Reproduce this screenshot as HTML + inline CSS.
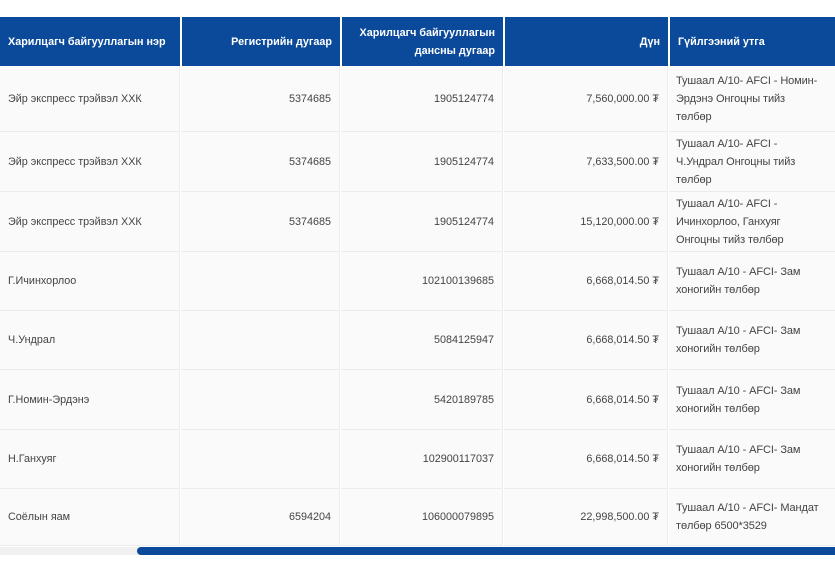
<!DOCTYPE html>
<html><head><meta charset="utf-8"><style>
body{margin:0;width:835px;height:567px;background:#fff;font-family:"Liberation Sans",sans-serif;position:relative;overflow:hidden}
.c{position:absolute;box-sizing:border-box;font-size:10.8px;color:#444;display:flex;align-items:center;padding:0 8px;line-height:18px}
.h{background:#0b4a9a;color:#fff;font-weight:bold;font-size:10.8px}
.r{justify-content:flex-end;text-align:right}
.b{background:#fafafa;border-bottom:1px solid #ececec}
.l{font-size:11px;padding:0 2px 0 7px;white-space:nowrap;overflow:hidden}
.l div{letter-spacing:-0.1px}
</style></head><body>
<div id="t"></div>
<div style="position:absolute;left:0;top:547px;width:835px;height:8px;background:#f1f1f1"></div>
<div style="position:absolute;left:137px;top:547px;width:698px;height:8px;background:#0b4a9a;border-radius:4px 0 0 4px"></div>
<script>
var cols=[[0,180],[182,340],[342,503],[505,668],[670,835]];
var rows=[66,132,192,252,311,370,430,489,546];
var H=["Харилцагч байгууллагын нэр","Регистрийн дугаар","Харилцагч байгууллагын<br>дансны дугаар","Дүн","Гүйлгээний утга"];
var D=[
["Эйр экспресс трэйвэл ХХК","5374685","1905124774","7,560,000.00 ₮","Тушаал А/10- AFCI - Номин-<br>Эрдэнэ Онгоцны тийз<br>төлбөр"],
["Эйр экспресс трэйвэл ХХК","5374685","1905124774","7,633,500.00 ₮","Тушаал А/10- AFCI -<br>Ч.Ундрал Онгоцны тийз<br>төлбөр"],
["Эйр экспресс трэйвэл ХХК","5374685","1905124774","15,120,000.00 ₮","Тушаал А/10- AFCI -<br>Ичинхорлоо, Ганхуяг<br>Онгоцны тийз төлбөр"],
["Г.Ичинхорлоо","","102100139685","6,668,014.50 ₮","Тушаал А/10 - AFCI- Зам<br>хоногийн төлбөр"],
["Ч.Ундрал","","5084125947","6,668,014.50 ₮","Тушаал А/10 - AFCI- Зам<br>хоногийн төлбөр"],
["Г.Номин-Эрдэнэ","","5420189785","6,668,014.50 ₮","Тушаал А/10 - AFCI- Зам<br>хоногийн төлбөр"],
["Н.Ганхуяг","","102900117037","6,668,014.50 ₮","Тушаал А/10 - AFCI- Зам<br>хоногийн төлбөр"],
["Соёлын яам","6594204","106000079895","22,998,500.00 ₮","Тушаал А/10 - AFCI- Мандат<br>төлбөр 6500*3529"]];
var s="";
cols.forEach(function(c,i){s+='<div class="c h'+((i>0&&i<4)?' r':'')+'" style="left:'+c[0]+'px;top:17px;width:'+(c[1]-c[0])+'px;height:49px">'+H[i]+'</div>';});
D.forEach(function(r,j){cols.forEach(function(c,i){
var l=i==0?0:c[0]-1,w=c[1]-l;
s+='<div class="c b'+((i>0&&i<4)?' r':'')+(i==4?' l':'')+'" style="left:'+l+'px;top:'+rows[j]+'px;width:'+w+'px;height:'+(rows[j+1]-rows[j])+'px;'+(i<4?'border-right:1px solid #ececec;':'')+'">'+(i==4?'<div>'+r[i]+'</div>':r[i])+'</div>';});});
document.getElementById('t').innerHTML=s;
</script>
</body></html>
